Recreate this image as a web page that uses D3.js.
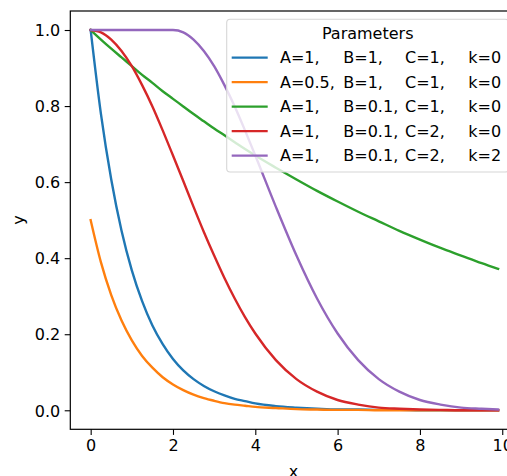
<!DOCTYPE html>
<html>
<head>
<meta charset="utf-8">
<script src="https://cdn.jsdelivr.net/npm/d3@7"></script>
<style>
  body { margin: 0; background: #fff; }
  svg { display: block; overflow: hidden; }
  text { font-family: "DejaVu Sans", sans-serif; fill: #000; }
</style>
</head>
<body>
<svg width="507" height="476"></svg>
<script>
// x samples (curves run from 0 to 9.9)
const xs = [0, 0.25, 0.5, 0.75, 1, 1.25, 1.5, 1.75, 2, 2.25, 2.5, 2.75, 3, 3.25, 3.5, 3.75, 4,
            4.5, 5, 5.5, 6, 6.5, 7, 7.5, 8, 8.5, 9, 9.5, 9.9];

const blue   = [1.000, 0.779, 0.607, 0.472, 0.368, 0.287, 0.223, 0.174, 0.135, 0.105, 0.082, 0.064, 0.050, 0.039, 0.030, 0.024, 0.018,
                0.011, 0.007, 0.004, 0.002, 0.002, 0.001, 0.001, 0.000, 0.000, 0.000, 0.000, 0.000];
const orange = [0.500, 0.389, 0.303, 0.236, 0.184, 0.143, 0.112, 0.087, 0.068, 0.053, 0.041, 0.032, 0.025, 0.019, 0.015, 0.012, 0.009,
                0.006, 0.003, 0.002, 0.001, 0.001, 0.000, 0.000, 0.000, 0.000, 0.000, 0.000, 0.000];
const green  = [1.000, 0.975, 0.951, 0.928, 0.905, 0.882, 0.861, 0.839, 0.819, 0.799, 0.779, 0.760, 0.741, 0.723, 0.705, 0.687, 0.670,
                0.638, 0.607, 0.577, 0.549, 0.522, 0.497, 0.472, 0.449, 0.427, 0.407, 0.387, 0.372];
const red    = [1.000, 0.994, 0.975, 0.945, 0.905, 0.855, 0.799, 0.736, 0.670, 0.603, 0.535, 0.469, 0.407, 0.348, 0.294, 0.245, 0.202,
                0.132, 0.082, 0.049, 0.027, 0.015, 0.007, 0.004, 0.002, 0.001, 0.000, 0.000, 0.000];
const purple = [1.000, 1.000, 1.000, 1.000, 1.000, 1.000, 1.000, 1.000, 1.000, 0.994, 0.975, 0.945, 0.905, 0.855, 0.799, 0.736, 0.670,
                0.535, 0.407, 0.294, 0.202, 0.132, 0.082, 0.049, 0.027, 0.015, 0.007, 0.004, 0.002];

// legend parameters
const parA = ["1", "0.5", "1", "1", "1"];
const parB = ["1", "1", "0.1", "0.1", "0.1"];
const parC = ["1", "1", "1", "2", "2"];
const parK = ["0", "0", "0", "0", "2"];

const xTicks = [0, 2, 4, 6, 8, 10];
const yTicks = [0, 0.2, 0.4, 0.6, 0.8, 1.0];

const series = [blue, orange, green, red, purple];
const colors = ["#1f77b4", "#ff7f0e", "#2ca02c", "#d62728", "#9467bd"];

var svg = d3.select("svg");
var box = {left: 70.3, right: 518.5, top: 11, bottom: 429.3}; // axes frame (right side runs off the page)

var x = d3.scaleLinear().domain([-0.495, 10.395]).range([box.left, box.right]);
var y = d3.scaleLinear().domain([-0.05, 1.05]).range([box.bottom, box.top]);

svg.append("defs").append("clipPath").attr("id", "clip")
    .append("rect")
    .attr("x", box.left).attr("y", box.top)
    .attr("width", box.right - box.left).attr("height", box.bottom - box.top);

// curves
var line = d3.line()
    .x((d, i) => x(xs[i]))
    .y(d => y(d))
    .curve(d3.curveMonotoneX);

svg.append("g").attr("clip-path", "url(#clip)")
    .selectAll("path")
    .data(series)
    .enter()
    .append("path")
    .attr("d", d => line(d))
    .attr("fill", "none")
    .attr("stroke", (d, i) => colors[i])
    .attr("stroke-width", 2.4)
    .attr("stroke-linejoin", "round")
    .attr("stroke-linecap", "square");

// axes
var xAxis = d3.axisBottom(x).tickValues(xTicks).tickFormat(d3.format("d"))
    .tickSize(5.6).tickPadding(4.5);
var yAxis = d3.axisLeft(y).tickValues(yTicks).tickFormat(d3.format(".1f"))
    .tickSize(5.6).tickPadding(4.5);

var gx = svg.append("g").attr("transform", "translate(0," + box.bottom + ")").call(xAxis);
var gy = svg.append("g").attr("transform", "translate(" + box.left + ",0)").call(yAxis);

[gx, gy].forEach(g => {
    g.select(".domain").remove();
    g.selectAll(".tick line").attr("stroke", "#000").attr("stroke-width", 1.1);
    g.selectAll(".tick text").attr("font-size", 16).attr("font-family", "DejaVu Sans").attr("fill", "#000");
});
gx.selectAll(".tick text").attr("dy", "0.71em");
gy.selectAll(".tick text").attr("dy", "0.36em");

// frame
svg.append("rect")
    .attr("x", box.left).attr("y", box.top)
    .attr("width", box.right - box.left).attr("height", box.bottom - box.top)
    .attr("fill", "none").attr("stroke", "#000").attr("stroke-width", 1.2);

// axis labels
svg.append("text").attr("x", 293.5).attr("y", 476.5)
    .attr("text-anchor", "middle").attr("font-size", 16).text("x");
svg.append("text")
    .attr("transform", "translate(24,220) rotate(-90)")
    .attr("text-anchor", "middle").attr("font-size", 16).text("y");

// legend
var leg = svg.append("g");
leg.append("rect")
    .attr("x", 226.7).attr("y", 19.3).attr("width", 282).attr("height", 152.7)
    .attr("rx", 3.5)
    .attr("fill", "#fff").attr("fill-opacity", 0.8)
    .attr("stroke", "#d6d6d6").attr("stroke-width", 1.1);

leg.append("text").attr("x", 367.7).attr("y", 39.3)
    .attr("text-anchor", "middle").attr("font-size", 16).text("Parameters");

var rows = leg.selectAll(".row")
    .data(colors)
    .enter()
    .append("g")
    .attr("class", "row")
    .attr("transform", (d, i) => "translate(0," + (57.6 + i * 24.5) + ")");

rows.append("line")
    .attr("x1", 231.7).attr("x2", 267.7)
    .attr("stroke", d => d).attr("stroke-width", 2.4);

var colX = [280, 343.3, 405, 468.3];
var colText = [
    i => "A=" + parA[i] + ",",
    i => "B=" + parB[i] + ",",
    i => "C=" + parC[i] + ",",
    i => "k=" + parK[i]
];
colX.forEach((cx, c) => {
    rows.append("text")
        .attr("x", cx).attr("y", 5.8)
        .attr("font-size", 16)
        .text((d, i) => colText[c](i));
});
</script>
</body>
</html>
